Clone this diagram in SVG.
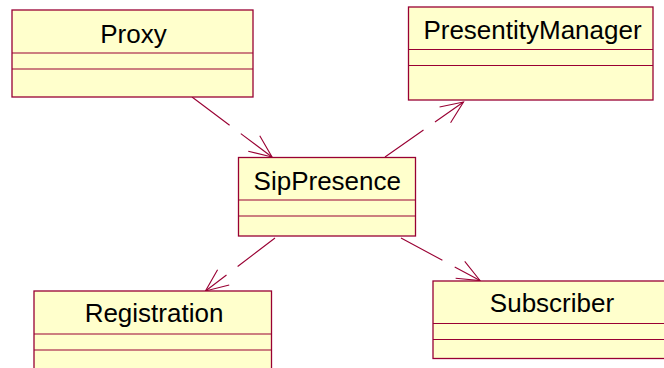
<svg xmlns="http://www.w3.org/2000/svg" width="664" height="368" viewBox="0 0 664 368">
  <style>
    .box { fill: #FFFFCC; stroke: #990033; stroke-width: 1.3; }
    .div { stroke: #990033; stroke-width: 1.1; }
    .name { font-family: "Liberation Sans", Arial, sans-serif; font-size: 26px; fill: #000; text-anchor: middle; }
    .dep { stroke: #990033; stroke-width: 1.1; fill: none; stroke-dasharray: 47 14; }
  </style>
  <defs>
    <marker id="open" markerUnits="userSpaceOnUse" markerWidth="30" markerHeight="30" viewBox="-26 -13 30 26" refX="0" refY="0" orient="auto" overflow="visible">
      <path d="M-22.5,-9.6 L0,0 L-22.5,9.6" fill="none" stroke="#990033" stroke-width="1.1"/>
    </marker>
  </defs>
  <rect width="664" height="368" fill="#FFFFFF"/>

  <g id="connectors">
    <line class="dep" x1="192" y1="97" x2="272" y2="157" marker-end="url(#open)"/>
    <line class="dep" x1="385" y1="157" x2="463.5" y2="102" marker-end="url(#open)"/>
    <line class="dep" x1="275" y1="238" x2="205.5" y2="291" marker-end="url(#open)"/>
    <line class="dep" x1="401" y1="238" x2="480" y2="280.5" marker-end="url(#open)"/>
  </g>

  <g id="Proxy">
    <rect class="box" x="12" y="10" width="241" height="87"/>
    <line class="div" x1="12" y1="53" x2="253" y2="53"/>
    <line class="div" x1="12" y1="69" x2="253" y2="69"/>
    <text class="name" x="133.5" y="43">Proxy</text>
  </g>

  <g id="PresentityManager">
    <rect class="box" x="408.5" y="7" width="244.5" height="93"/>
    <line class="div" x1="408.5" y1="49.5" x2="653" y2="49.5"/>
    <line class="div" x1="408.5" y1="65.5" x2="653" y2="65.5"/>
    <text class="name" x="532.5" y="38.5">PresentityManager</text>
  </g>

  <g id="SipPresence">
    <rect class="box" x="238.5" y="157.5" width="177" height="78.5"/>
    <line class="div" x1="238.5" y1="200" x2="415.5" y2="200"/>
    <line class="div" x1="238.5" y1="216" x2="415.5" y2="216"/>
    <text class="name" x="327.3" y="189.5">SipPresence</text>
  </g>

  <g id="Registration">
    <rect class="box" x="34" y="291" width="237.5" height="90"/>
    <line class="div" x1="34" y1="334" x2="271.5" y2="334"/>
    <line class="div" x1="34" y1="350" x2="271.5" y2="350"/>
    <text class="name" x="154" y="322">Registration</text>
  </g>

  <g id="Subscriber">
    <rect class="box" x="433" y="281" width="240" height="77.5"/>
    <line class="div" x1="433" y1="323.5" x2="673" y2="323.5"/>
    <line class="div" x1="433" y1="339.5" x2="673" y2="339.5"/>
    <text class="name" x="552" y="312">Subscriber</text>
  </g>
</svg>
